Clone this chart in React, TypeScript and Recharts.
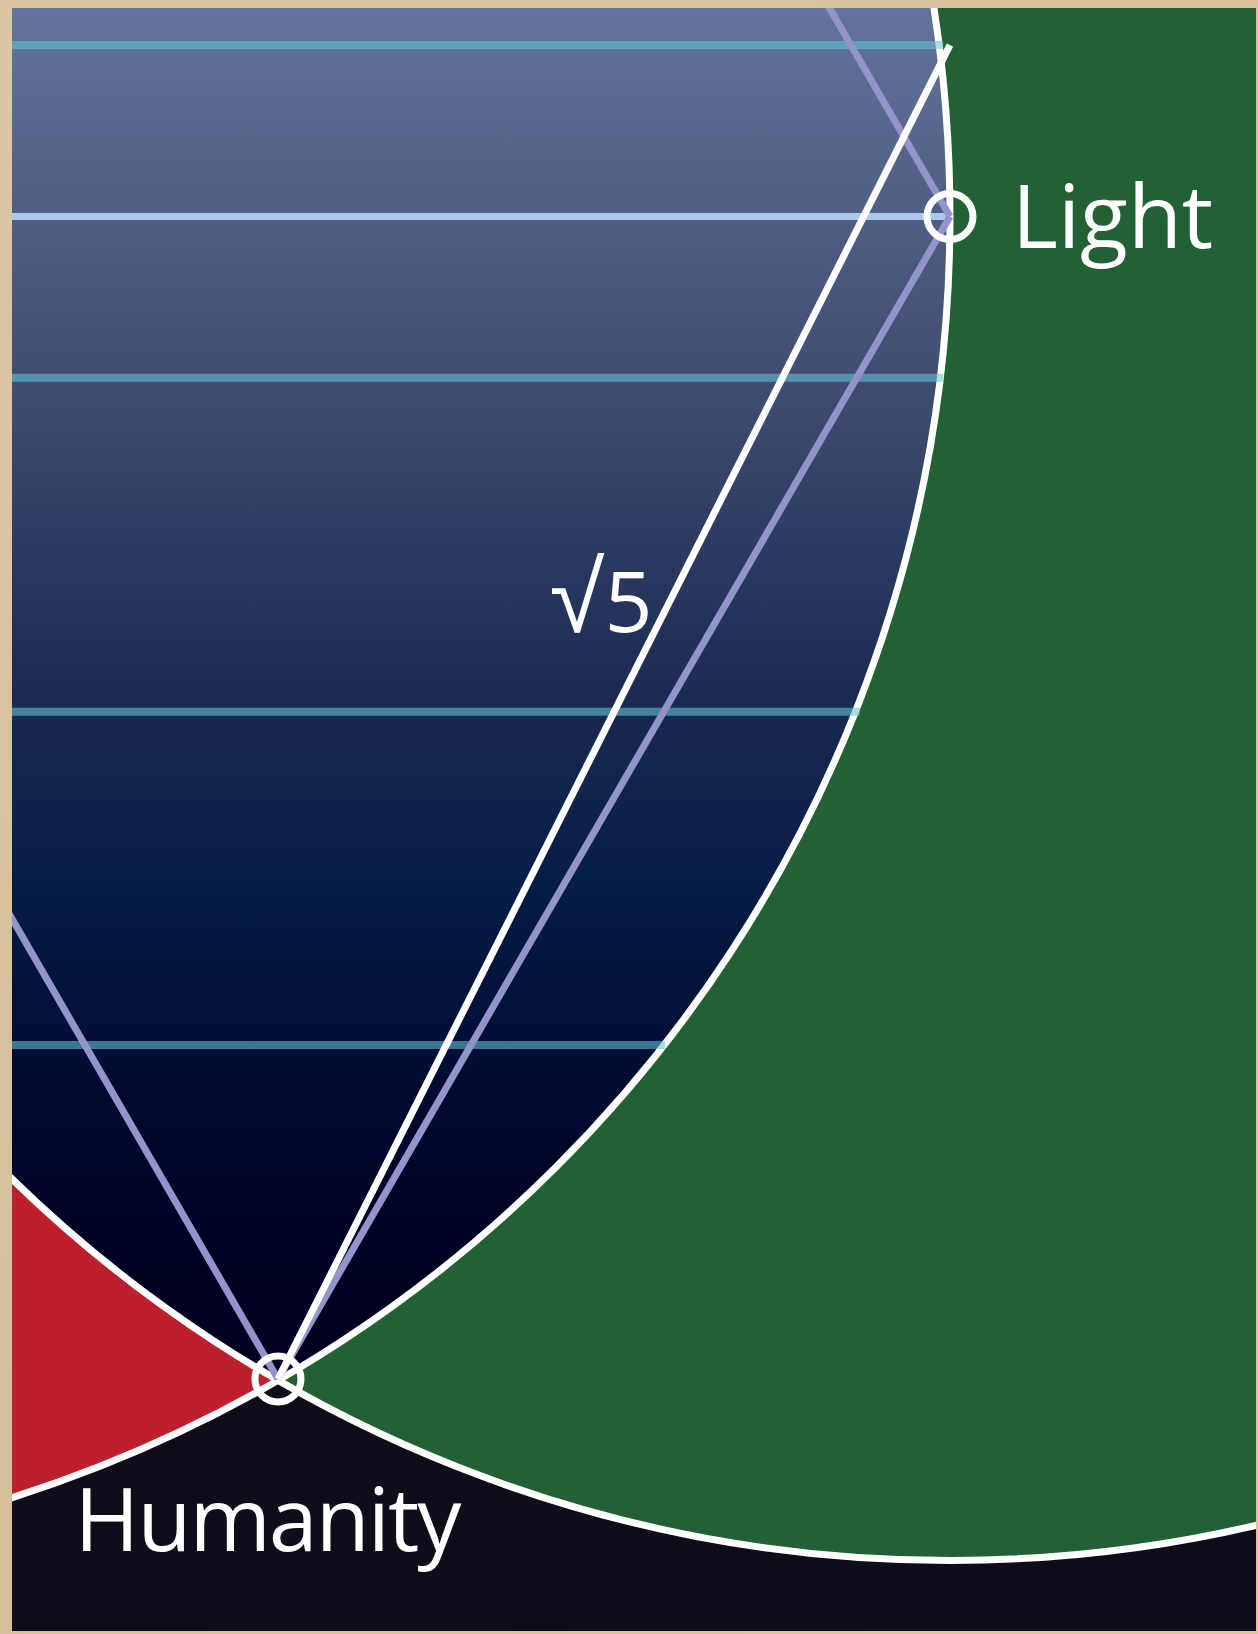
import React from "react";
import { ComposedChart, Scatter, XAxis, YAxis, CartesianGrid, ReferenceDot } from "recharts";

const W = 1258;
const H = 1634;
const MARGIN = { top: 8, right: 2, bottom: 3, left: 12 };
const X_DOMAIN = [-0.3958, 1.4554];
const Y_DOMAIN = [-0.375, 2.0402];
// pixels per unit, from the plot width and the x domain
const PX = (W - MARGIN.left - MARGIN.right) / (X_DOMAIN[1] - X_DOMAIN[0]);

const RED = "#bd1f2d";
const GREEN = "#226133";
const NIGHT = "#0e0e1a";
const LAVENDER = "#9394cb";
const FONT = "'Open Sans', 'Noto Sans', sans-serif";

// points of the figure (units: Humanity at origin, circle radius 2)
const humanity = { x: 0, y: 0 };
const light = { x: 1, y: 1.73 };
const leftCentre = { x: -1, y: 1.73 };
const topApex = { x: 0, y: 3.46 };
const sqrt5End = { x: 1, y: 1.985 };
const RADIUS = 2;

const discs = [
  { ...leftCentre, id: "left" },
  { ...light, id: "right" },
];

// horizontal rules inside the vesica, and where they stop at the left circle
const ruleLevels = [0.497, 0.993, 1.49, 1.985];
const ruleEnds = [0.576, 0.866, 0.99, 0.99];
const ruleStart = -0.5;

const lightRule = [{ x: ruleStart, y: light.y }, light];
const rays = [
  [humanity, light],
  [light, topApex],
  [humanity, leftCentre],
];
const sqrt5Line = [humanity, sqrt5End];
const sqrt5Label = { x: 0.4807, y: 1.1116 };

const Empty = () => <g />;

// red left disc, green right disc, gradient where they overlap
const DiscShape = (props: any) => {
  const { cx, cy, payload } = props;
  const r = RADIUS * PX;
  if (payload.id === "left") {
    return (
      <g>
        <defs>
          <clipPath id="leftDisc">
            <circle cx={cx} cy={cy} r={r} />
          </clipPath>
        </defs>
        <circle cx={cx} cy={cy} r={r} fill={RED} />
      </g>
    );
  }
  return (
    <g>
      <defs>
        <linearGradient id="vesica" gradientUnits="userSpaceOnUse" x1={0} y1={0} x2={0} y2={1400}>
          <stop offset="0" stopColor="#64749a" />
          <stop offset="0.28" stopColor="#3e4c70" />
          <stop offset="0.5" stopColor="#1a2a52" />
          <stop offset="0.64" stopColor="#041c44" />
          <stop offset="0.78" stopColor="#000a30" />
          <stop offset="0.88" stopColor="#000224" />
          <stop offset="1" stopColor="#00001c" />
        </linearGradient>
      </defs>
      <circle cx={cx} cy={cy} r={r} fill={GREEN} />
      <circle cx={cx} cy={cy} r={r} fill="url(#vesica)" clipPath="url(#leftDisc)" />
    </g>
  );
};

const OutlineShape = (props: any) => (
  <circle cx={props.cx} cy={props.cy} r={RADIUS * PX} fill="none" stroke="#ffffff" strokeWidth={7} />
);

const RootFive = (props: any) => {
  const { x, y } = props.viewBox;
  return (
    <text x={x} y={y} textAnchor="middle" fill="#ffffff" fontFamily={FONT} fontSize={84}>
      <tspan fontFamily="'Liberation Sans', 'DejaVu Sans', sans-serif" fontSize={100}>
        √
      </tspan>
      <tspan>5</tspan>
    </text>
  );
};

export default function App() {
  return (
    <div
      style={{
        position: "absolute",
        left: 0,
        top: 0,
        width: W,
        height: H,
        background: "linear-gradient(135deg, #dcc7a3 0%, #d6c09b 50%, #dac5a1 100%)",
      }}
    >
      <ComposedChart width={W} height={H} margin={MARGIN}>
        <CartesianGrid fill={NIGHT} fillOpacity={1} horizontal={false} vertical={false} stroke="none" />
        <XAxis type="number" dataKey="x" domain={X_DOMAIN} allowDataOverflow hide />
        <YAxis type="number" dataKey="y" domain={Y_DOMAIN} allowDataOverflow hide />

        <Scatter data={discs} shape={DiscShape} isAnimationActive={false} />
        <Scatter data={discs} shape={OutlineShape} isAnimationActive={false} />

        {ruleLevels.map((y, i) => (
          <Scatter
            key={`rule-${i}`}
            data={[{ x: ruleStart, y }, { x: ruleEnds[i], y }]}
            line={{ stroke: "#64c4d5", strokeWidth: 8, strokeOpacity: 0.58 }}
            shape={Empty}
            fill="none"
            isAnimationActive={false}
          />
        ))}

        <Scatter
          data={lightRule}
          line={{ stroke: "#aac8ec", strokeWidth: 7 }}
          shape={Empty}
          fill="none"
          isAnimationActive={false}
        />

        {rays.map((seg, i) => (
          <Scatter
            key={`ray-${i}`}
            data={seg}
            line={{ stroke: LAVENDER, strokeWidth: 7 }}
            shape={Empty}
            fill="none"
            isAnimationActive={false}
          />
        ))}

        <Scatter
          data={sqrt5Line}
          line={{ stroke: "#ffffff", strokeWidth: 7 }}
          shape={Empty}
          fill="none"
          isAnimationActive={false}
        />

        <ReferenceDot
          x={light.x}
          y={light.y}
          r={23}
          fill="none"
          stroke="#ffffff"
          strokeWidth={7}
          ifOverflow="visible"
          label={{
            value: "Light",
            position: "right",
            offset: 39,
            fill: "#ffffff",
            fontSize: 88,
            fontFamily: FONT,
          }}
        />
        <ReferenceDot
          x={humanity.x}
          y={humanity.y}
          r={23}
          fill="none"
          stroke="#ffffff"
          strokeWidth={7}
          ifOverflow="visible"
          label={{
            value: "Humanity",
            position: "bottom",
            offset: 87,
            dx: -11,
            fill: "#ffffff",
            fontSize: 88,
            fontFamily: FONT,
            letterSpacing: -2,
          }}
        />
        <ReferenceDot
          x={sqrt5Label.x}
          y={sqrt5Label.y}
          r={0}
          fill="none"
          stroke="none"
          ifOverflow="visible"
          label={<RootFive />}
        />
      </ComposedChart>
    </div>
  );
}
